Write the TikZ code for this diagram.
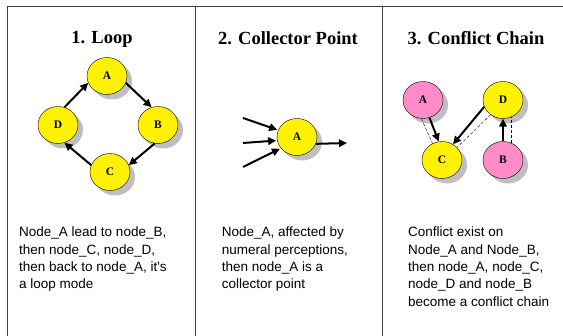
\documentclass[tikz,border=0pt]{standalone}
\usepackage{fontspec}
\setmainfont{Liberation Serif}
\newfontfamily\arialfont{Liberation Sans}
\usetikzlibrary{shapes.geometric,shadows,arrows.meta}
\definecolor{nodepink}{RGB}{255,140,200}

\begin{document}
\begin{tikzpicture}
[x=1pt,y=-1pt,
  nodeDecorate/.style={shape=ellipse,draw,thin,minimum width=40pt,minimum height=37pt,inner sep=0pt,%
    font=\bfseries\fontsize{11.5}{13}\selectfont,%
    drop shadow={shadow xshift=5pt,shadow yshift=-5pt,fill=black!25,opacity=1}},%
  yellowNode/.style={nodeDecorate,fill=yellow},%
  pinkNode/.style={nodeDecorate,fill=nodepink},%
  lineDecorate/.style={-{Triangle[length=8pt,width=7.5pt]},line width=2pt},%
  dashDecorate/.style={-,thin,dash pattern=on 3pt off 2pt},%
  frameDecorate/.style={draw=black!75,line width=1pt},%
  titleDecorate/.style={font=\bfseries\fontsize{18.5}{22}\selectfont},%
  textDecorate/.style={anchor=north west,inner sep=0pt,align=left,font=\arialfont\fontsize{13.5}{17.3}\selectfont}]
\useasboundingbox (0,0) rectangle (563,336);
%% frame
\draw[frameDecorate] (7,336) -- (7,7) -- (563,7);
\draw[frameDecorate] (195,7) -- (195,336);
\draw[frameDecorate] (382,7) -- (382,336);
%% titles
\node[titleDecorate] (t1) at (102,39) {1. Loop};
\node[titleDecorate] (t2) at (288,38) {2. Collector Point};
\node[titleDecorate] (t3) at (476,38) {3. Conflict Chain};
%% loop nodes
\foreach \nodename/\x/\y/\letter in {
  la/107/76/A, lb/158/125/B, lc/110/172/C, ld/58/125/D}
{
  \node[yellowNode] (\nodename) at (\x,\y) {\letter};
}
\foreach \startnode/\endnode in {
  la.-20/lb.110, lb.-100/lc.20, lc.160/ld.-70, ld.70/la.200}
{
  \draw[lineDecorate] (\startnode) -- (\endnode);
}
%% collector point
\node[yellowNode] (ca) at (297,137) {A};
\coordinate (in1) at (243,118);
\coordinate (in2) at (243,143);
\coordinate (in3) at (243,167);
\coordinate (out) at (348,143);
\foreach \startnode/\endnode in {
  in1/ca.160, in2/ca.190, in3/ca.215, ca.-20/out}
{
  \draw[lineDecorate,shorten >=1pt] (\startnode) -- (\endnode);
}
%% conflict chain
\foreach \nodename/\x/\y/\letter/\kind in {
  ka/423/100/A/pinkNode, kd/503/100/D/yellowNode,
  kc/442/160/C/yellowNode, kb/503/160/B/pinkNode}
{
  \node[\kind] (\nodename) at (\x,\y) {\letter};
}
\foreach \startnode/\endnode in {
  ka.-70/kc.100, kd.-160/kc.55, kb.north/kd.south}
{
  \draw[lineDecorate] (\startnode) -- (\endnode);
}
\foreach \startnode/\endnode in {
  ka.-95/kc.120, kd.-130/kc.40, kb.65/kd.-65}
{
  \draw[dashDecorate] (\startnode) -- (\endnode);
}
%% texts
\node[textDecorate] (x1) at (19,227) {Node\_A lead to node\_B,\\then node\_C, node\_D,\\then back to node\_A, it\textquotesingle s\\a loop mode};
\node[textDecorate] (x2) at (221.6,227) {Node\_A, affected by\\numeral perceptions,\\then node\_A is a\\collector point};
\node[textDecorate] (x3) at (408,227) {Conflict exist on\\Node\_A and Node\_B,\\then node\_A, node\_C,\\node\_D and node\_B\\become a conflict chain};
\end{tikzpicture}
\end{document}
